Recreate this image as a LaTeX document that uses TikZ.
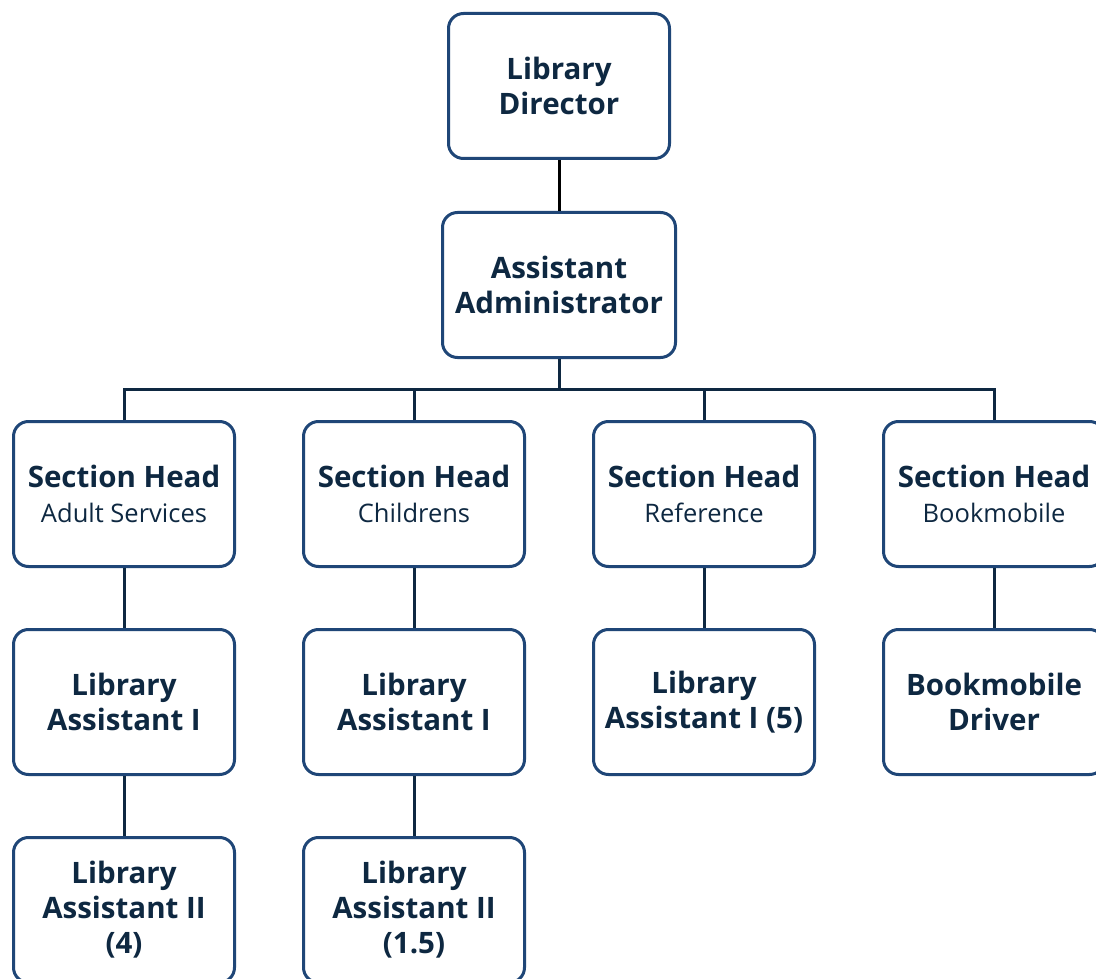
\documentclass[tikz,border=0pt]{standalone}
\usepackage{fontspec}
\setmainfont{Open Sans}
\definecolor{boxline}{HTML}{1F4677}
\definecolor{inktext}{HTML}{0E2841}
\definecolor{linkline}{HTML}{0E2841}
\newcommand{\unitname}[1]{{\fontsize{25.5}{33}\selectfont\mdseries #1}}
\begin{document}
\begin{tikzpicture}[x=1pt,y=-1pt,
  orgbox/.style={draw=boxline, line width=3pt, rounded corners=15pt, fill=white,
    minimum width=221pt, minimum height=145pt, inner sep=0pt, align=center,
    text=inktext, font=\fontsize{29.5}{35}\selectfont\bfseries},
  link/.style={draw=linkline, line width=3pt}]
\clip (0,0) rectangle (1096,979);
\fill[white] (0,0) rectangle (1096,979);

% top of the chart
\node[orgbox] (dir) at (559,86) {Library\\Director};
\node[orgbox, minimum width=233pt] (adm) at (559,285) {Assistant\\Administrator};

% section heads
\node[orgbox] (sh1) at (124,494) {Section Head\\\unitname{Adult Services}};
\node[orgbox] (sh2) at (414,494) {Section Head\\\unitname{Childrens}};
\node[orgbox] (sh3) at (704,494) {Section Head\\\unitname{Reference}};
\node[orgbox] (sh4) at (994,494) {Section Head\\\unitname{Bookmobile}};

% second level
\node[orgbox] (la1) at (124,702) {Library\\Assistant I};
\node[orgbox] (la2) at (414,702) {Library\\Assistant I};
\node[orgbox] (la3) at (704,702) {Library\\Assistant I (5)};
\node[orgbox] (bmd) at (994,702) {Bookmobile\\Driver};

% third level
\node[orgbox] (lb1) at (124,910) {Library\\Assistant II\\(4)};
\node[orgbox] (lb2) at (414,910) {Library\\Assistant II\\(1.5)};

% connectors
\coordinate (bus) at (559,389);
\draw[line width=3pt, black] (dir.south) -- (adm.north);
\draw[link] (adm.south) -- (bus);
\draw[link] (sh1.north) |- (bus) -| (sh4.north);
\draw[link] (sh2.north) -- (sh2.north |- bus);
\draw[link] (sh3.north) -- (sh3.north |- bus);
\draw[link] (sh1.south) -- (la1.north);
\draw[link] (sh2.south) -- (la2.north);
\draw[link] (sh3.south) -- (la3.north);
\draw[link] (sh4.south) -- (bmd.north);
\draw[link] (la1.south) -- (lb1.north);
\draw[link] (la2.south) -- (lb2.north);
\end{tikzpicture}
\end{document}
